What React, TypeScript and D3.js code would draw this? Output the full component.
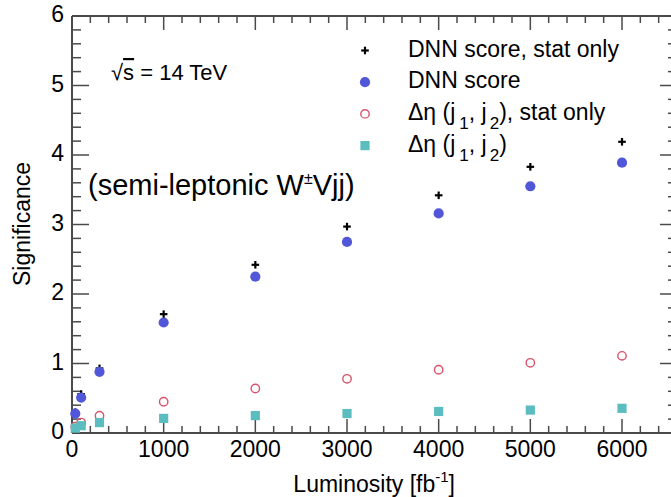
import React from "react";
import * as d3 from "d3";

const luminosity = [36, 100, 300, 1000, 2000, 3000, 4000, 5000, 6000];
const dnnStatOnly = [0.30, 0.56, 0.93, 1.71, 2.42, 2.97, 3.42, 3.83, 4.19];
const dnnScore = [0.28, 0.51, 0.88, 1.59, 2.25, 2.75, 3.16, 3.55, 3.89];
const detaStatOnly = [0.09, 0.15, 0.25, 0.45, 0.64, 0.78, 0.91, 1.01, 1.11];
const detaFull = [0.07, 0.105, 0.15, 0.21, 0.25, 0.28, 0.31, 0.33, 0.355];

const xMajorTicks = [0, 1000, 2000, 3000, 4000, 5000, 6000];
const yMajorTicks = [0, 1, 2, 3, 4, 5, 6];

const W = 671;
const H = 497;
const LEFT = 72;
const RIGHT = 677;
const TOP = 16;
const BOTTOM = 433;

const BLUE = "#5257d9";
const RED = "#d9546b";
const TEAL = "#5bbdbf";
const AXIS = "#4a4a4a";
const FONT = "'Liberation Sans', Arial, Helvetica, sans-serif";

type Kind = "plus" | "dot" | "ring" | "square";

function Marker({ kind, cx, cy }: { kind: Kind; cx: number; cy: number }) {
  if (kind === "plus") {
    const h = 3.8;
    return (
      <g stroke="#000" strokeWidth={2.2}>
        <line x1={cx - h} x2={cx + h} y1={cy} y2={cy} />
        <line x1={cx} x2={cx} y1={cy - h} y2={cy + h} />
      </g>
    );
  }
  if (kind === "dot") return <circle cx={cx} cy={cy} r={5.1} fill={BLUE} />;
  if (kind === "ring")
    return <circle cx={cx} cy={cy} r={4.2} fill="none" stroke={RED} strokeWidth={1.4} />;
  return <rect x={cx - 4.6} y={cy - 4.6} width={9.2} height={9.2} fill={TEAL} />;
}

export default function App() {
  const x = d3.scaleLinear().domain([0, 6600]).range([LEFT, RIGHT]);
  const y = d3.scaleLinear().domain([0, 6]).range([BOTTOM, TOP]);

  const xMinor = d3.range(0, 6601, 200).filter((v) => v % 1000 !== 0);
  const yMinor = d3.range(0, 6.001, 0.2).map((v) => Math.round(v * 10) / 10).filter((v) => Math.abs(v - Math.round(v)) > 1e-6);

  const series: { vals: number[]; kind: Kind }[] = [
    { vals: dnnStatOnly, kind: "plus" },
    { vals: dnnScore, kind: "dot" },
    { vals: detaStatOnly, kind: "ring" },
    { vals: detaFull, kind: "square" },
  ];

  const legendBase = [56.5, 88.2, 119.9, 151.6];
  const legendX = 365;
  const textX = 408;

  return (
    <svg
      width={W}
      height={H}
      style={{ position: "absolute", left: 0, top: 0, background: "#fff" }}
      fontFamily={FONT}
    >
      <rect x={0} y={0} width={W} height={H} fill="#fff" />
      {/* frame */}
      <g stroke={AXIS} fill="none">
        <line x1={LEFT} x2={RIGHT} y1={BOTTOM} y2={BOTTOM} strokeWidth={2} />
        <line x1={LEFT} x2={RIGHT} y1={TOP} y2={TOP} strokeWidth={2} />
        <line x1={LEFT} x2={LEFT} y1={TOP} y2={BOTTOM} strokeWidth={2} />
        <line x1={RIGHT} x2={RIGHT} y1={TOP} y2={BOTTOM} strokeWidth={2} />
      </g>
      {/* x ticks */}
      <g stroke={AXIS} strokeWidth={1.5}>
        {xMajorTicks.map((v) => (
          <g key={"xm" + v}>
            <line x1={x(v)} x2={x(v)} y1={BOTTOM} y2={BOTTOM - 14} />
            <line x1={x(v)} x2={x(v)} y1={TOP} y2={TOP + 14} />
          </g>
        ))}
        {xMinor.map((v) => (
          <g key={"xn" + v}>
            <line x1={x(v)} x2={x(v)} y1={BOTTOM} y2={BOTTOM - 7} />
            <line x1={x(v)} x2={x(v)} y1={TOP} y2={TOP + 7} />
          </g>
        ))}
        {yMajorTicks.map((v) => (
          <g key={"ym" + v}>
            <line x1={LEFT} x2={LEFT + 17} y1={y(v)} y2={y(v)} />
            <line x1={RIGHT} x2={RIGHT - 17} y1={y(v)} y2={y(v)} />
          </g>
        ))}
        {yMinor.map((v) => (
          <g key={"yn" + v}>
            <line x1={LEFT} x2={LEFT + 9} y1={y(v)} y2={y(v)} />
            <line x1={RIGHT} x2={RIGHT - 9} y1={y(v)} y2={y(v)} />
          </g>
        ))}
      </g>
      {/* tick labels */}
      <g fontSize={23} fill="#000">
        {xMajorTicks.map((v) => (
          <text key={"xl" + v} x={x(v)} y={457} textAnchor="middle">
            {v}
          </text>
        ))}
        {yMajorTicks.map((v) => (
          <text key={"yl" + v} x={64} y={y(v) + 6} textAnchor="end">
            {v}
          </text>
        ))}
      </g>
      {/* axis titles */}
      <text x={455} y={492} fontSize={23} textAnchor="end">
        Luminosity [fb
        <tspan fontSize={15} dy={-10}>-1</tspan>
        <tspan dy={10}>]</tspan>
      </text>
      <text
        transform={`translate(30, 224) rotate(-90)`}
        fontSize={23}
        textAnchor="middle"
      >
        Significance
      </text>
      {/* annotations */}
      <text x={111} y={80} fontSize={22}>
        √<tspan style={{ textDecoration: "overline" }}>s</tspan> = 14 TeV
      </text>
      <text x={88} y={195} fontSize={29}>
        (semi-leptonic W
        <tspan fontSize={16} dy={-11}>±</tspan>
        <tspan dy={11}>Vjj)</tspan>
      </text>
      {/* data */}
      {series.map((s, si) => (
        <g key={"s" + si}>
          {s.vals.map((v, i) => (
            <Marker key={i} kind={s.kind} cx={x(luminosity[i])} cy={y(v)} />
          ))}
        </g>
      ))}
      {/* legend */}
      <g fontSize={23} fill="#000">
        <Marker kind="plus" cx={legendX} cy={legendBase[0] - 6} />
        <Marker kind="dot" cx={legendX} cy={legendBase[1] - 6} />
        <Marker kind="ring" cx={legendX} cy={legendBase[2] - 6} />
        <Marker kind="square" cx={legendX} cy={legendBase[3] - 6} />
        <text x={textX} y={legendBase[0]}>DNN score, stat only</text>
        <text x={textX} y={legendBase[1]}>DNN score</text>
        <text x={textX} y={legendBase[2]}>
          Δη (j
          <tspan dx={4} dy={9} fontSize={17}>1</tspan>
          <tspan dy={-9}>, j</tspan>
          <tspan dx={3} dy={9} fontSize={17}>2</tspan>
          <tspan dy={-9}>), stat only</tspan>
        </text>
        <text x={textX} y={legendBase[3]}>
          Δη (j
          <tspan dx={4} dy={9} fontSize={17}>1</tspan>
          <tspan dy={-9}>, j</tspan>
          <tspan dx={3} dy={9} fontSize={17}>2</tspan>
          <tspan dy={-9}>)</tspan>
        </text>
      </g>
    </svg>
  );
}
